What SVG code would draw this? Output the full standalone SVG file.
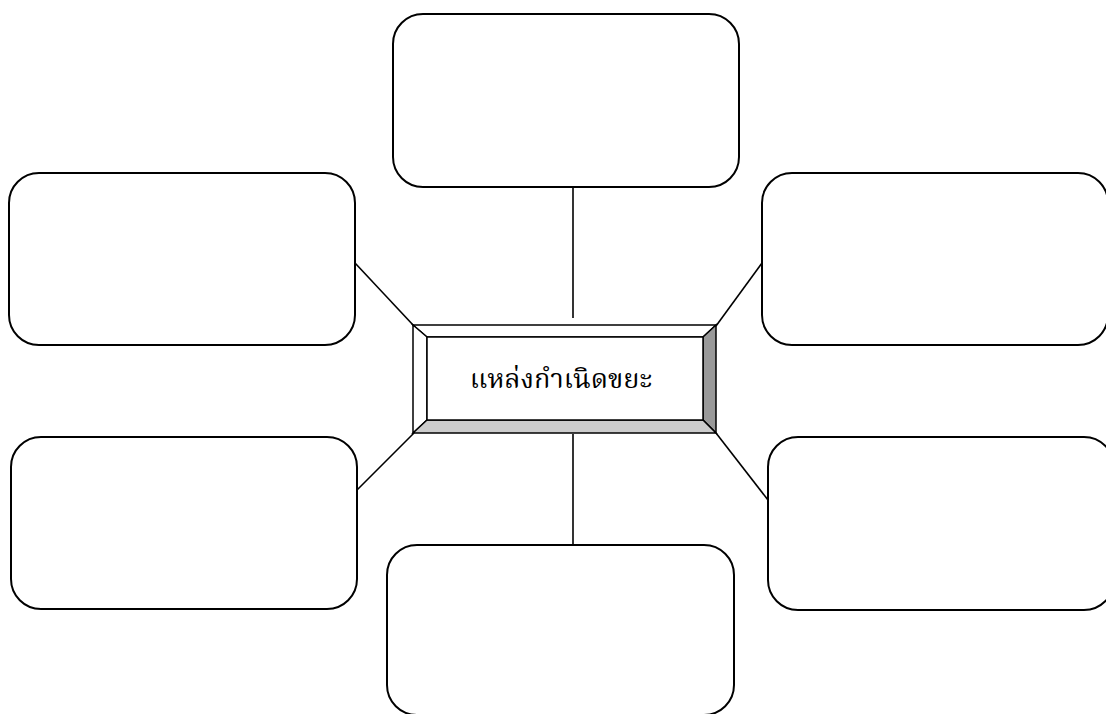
<svg xmlns="http://www.w3.org/2000/svg" width="1106" height="714" viewBox="0 0 1106 714">
<style>
.box{fill:#fff;stroke:#000;stroke-width:2}
.con line{stroke:#000;stroke-width:1.6}
.bev{stroke:#000;stroke-width:1.5;stroke-linejoin:miter}
.lbl{font-family:"Liberation Serif","Noto Serif Thai","Noto Sans Thai",serif;font-size:27px;fill:#000}
</style>
<rect width="1106" height="714" fill="#fff"/>
<g id="connectors" class="con">
<line x1="573" y1="187" x2="573" y2="318"/>
<line x1="573" y1="434" x2="573" y2="545"/>
<line x1="355" y1="263" x2="414" y2="326"/>
<line x1="762" y1="263" x2="716" y2="326"/>
<line x1="357" y1="490" x2="414" y2="433"/>
<line x1="768" y1="500" x2="716" y2="433"/>
</g>
<g id="box-top"><rect class="box" x="393" y="14" width="346" height="173" rx="30"/></g>
<g id="box-left-top"><rect class="box" x="9" y="173" width="346" height="172" rx="30"/></g>
<g id="box-right-top"><rect class="box" x="762" y="173" width="346" height="172" rx="30"/></g>
<g id="box-left-bottom"><rect class="box" x="11" y="437" width="346" height="172" rx="30"/></g>
<g id="box-right-bottom"><rect class="box" x="768" y="437" width="346" height="173" rx="30"/></g>
<g id="box-bottom"><rect class="box" x="387" y="545" width="347" height="170" rx="30"/></g>
<g id="center">
<polygon class="bev" fill="#fff" points="413,325 716,325 703,337 427,337"/>
<polygon class="bev" fill="#fff" points="413,325 427,337 427,420 413,433"/>
<polygon class="bev" fill="#999" points="716,325 716,433 703,420 703,337"/>
<polygon class="bev" fill="#ccc" points="413,433 427,420 703,420 716,433"/>
<rect class="bev" fill="#fff" x="427" y="337" width="276" height="83"/>
<text class="lbl" x="561" y="388" text-anchor="middle">แหล่งกำเนิดขยะ</text>
</g>
</svg>
